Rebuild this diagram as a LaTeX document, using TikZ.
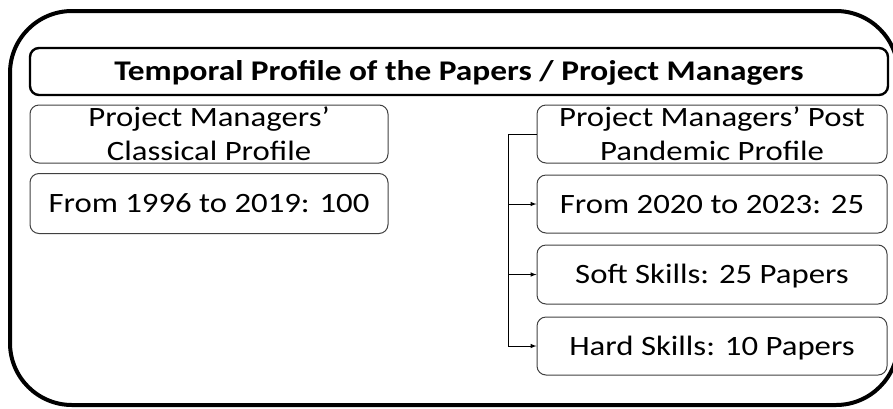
\documentclass[tikz,border=0pt]{standalone}
\usepackage{fontspec}
\setmainfont{Carlito}[FakeStretch=1.17]
\usepackage{xcolor}
\definecolor{boxline}{rgb}{0.25, 0.25, 0.25}

\begin{document}
\begin{tikzpicture}[x=1pt,y=-1pt]
				\tikzstyle{frame} = [draw=black,line width=4pt,rounded corners=62pt]
				\tikzstyle{head} = [draw=black,line width=2.4pt,rounded corners=9pt,inner sep=0pt,text height=18.5pt,text depth=0pt,font=\fontsize{28.5}{34}\selectfont\bfseries]
				\tikzstyle{box} = [draw=boxline,line width=1pt,rounded corners=9pt,inner sep=0pt,align=center,font=\fontsize{28}{34}\selectfont]
				\tikzstyle{box1} = [box,text height=18pt,text depth=0pt]
				\tikzstyle{edge} = [-latex,line width=1pt]
				\useasboundingbox (0,0) rectangle (893,408);
				\clip (0,0) rectangle (893,408);
				\draw[frame] (10,11) rectangle (898,405);
				\node[head,minimum width=858pt,minimum height=47pt] (title) at (459,71.5) {Temporal Profile of the Papers / Project Managers};
				\node[box,minimum width=358pt,minimum height=58pt] (classic) at (209,134) {Project Managers’\\Classical Profile};
				\node[box1,minimum width=358pt,minimum height=60pt] (old) at (209,203.5) {From 1996 to 2019: 100};
				\node[box,minimum width=350pt,minimum height=58pt] (post) at (712,134) {Project Managers’ Post\\Pandemic Profile};
				\node[box1,minimum width=350pt,minimum height=58pt] (recent) at (712,204) {From 2020 to 2023: 25};
				\node[box1,minimum width=350pt,minimum height=59pt] (soft) at (712,274.5) {Soft Skills: 25 Papers};
				\node[box1,minimum width=350pt,minimum height=58pt] (hard) at (712,346) {Hard Skills: 10 Papers};
				\coordinate (spine) at (508,134);
				\draw[edge] (post.west) -- (spine) |- (hard.west);
				\draw[edge] (spine |- recent.west) -- (recent.west);
				\draw[edge] (spine |- soft.west) -- (soft.west);
				\end{tikzpicture}
\end{document}
